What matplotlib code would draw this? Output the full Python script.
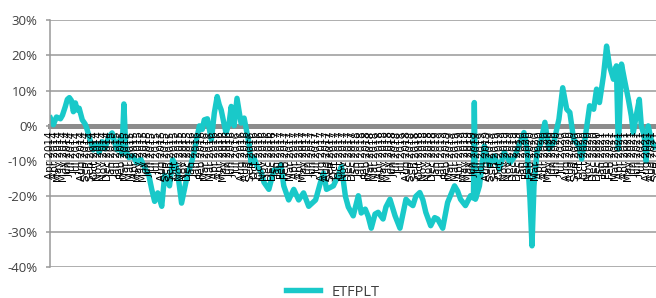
import matplotlib
matplotlib.use("Agg")
import matplotlib.pyplot as plt
import pandas as pd

# premium / discount of ETFPLT
dates = [
    "2014-04-01", "2014-04-14", "2014-04-28", "2014-05-16", "2014-05-25", "2014-06-07",
    "2014-06-16", "2014-06-25", "2014-07-04", "2014-07-13", "2014-07-22", "2014-07-30",
    "2014-08-08", "2014-08-22", "2014-09-04", "2014-09-13", "2014-09-26", "2014-10-10",
    "2014-10-23", "2014-11-06", "2014-11-19", "2014-12-02", "2014-12-16", "2015-01-03",
    "2015-01-16", "2015-01-25", "2015-02-07", "2015-02-16", "2015-02-25", "2015-03-06",
    "2015-03-19", "2015-04-06", "2015-04-24", "2015-05-12", "2015-05-30", "2015-06-17",
    "2015-06-30", "2015-07-13", "2015-07-27", "2015-08-14", "2015-08-27", "2015-09-09",
    "2015-09-18", "2015-10-02", "2015-10-15", "2015-10-24", "2015-11-11", "2015-11-24",
    "2015-12-07", "2015-12-25", "2016-01-08", "2016-01-17", "2016-01-30", "2016-02-12",
    "2016-02-21", "2016-03-06", "2016-03-24", "2016-04-06", "2016-04-19", "2016-04-28",
    "2016-05-07", "2016-05-20", "2016-05-29", "2016-06-12", "2016-06-21", "2016-07-04",
    "2016-07-17", "2016-08-04", "2016-08-18", "2016-08-31", "2016-09-09", "2016-09-18",
    "2016-10-01", "2016-10-15", "2016-11-02", "2016-11-15", "2016-12-07", "2016-12-30",
    "2017-01-21", "2017-01-30", "2017-02-12", "2017-03-06", "2017-03-29", "2017-04-20",
    "2017-05-12", "2017-06-04", "2017-07-05", "2017-07-27", "2017-08-10", "2017-08-23",
    "2017-09-23", "2017-10-15", "2017-10-29", "2017-11-16", "2017-11-29", "2017-12-21",
    "2018-01-13", "2018-01-26", "2018-02-13", "2018-02-26", "2018-03-12", "2018-03-29",
    "2018-04-12", "2018-05-04", "2018-05-17", "2018-06-04", "2018-06-27", "2018-07-19",
    "2018-08-01", "2018-08-15", "2018-09-02", "2018-09-15", "2018-09-28", "2018-10-16",
    "2018-10-30", "2018-11-12", "2018-12-04", "2018-12-22", "2019-01-04", "2019-01-27",
    "2019-02-18", "2019-03-08", "2019-03-21", "2019-04-04", "2019-04-17", "2019-05-09",
    "2019-06-01", "2019-06-14", "2019-06-18", "2019-06-23", "2019-07-11", "2019-08-02",
    "2019-08-24", "2019-09-16", "2019-10-08", "2019-10-30", "2019-11-26", "2019-12-18",
    "2020-01-10", "2020-01-27", "2020-02-10", "2020-02-23", "2020-03-03", "2020-03-12",
    "2020-03-25", "2020-04-08", "2020-04-30", "2020-05-18", "2020-06-09", "2020-07-02",
    "2020-07-19", "2020-08-06", "2020-08-20", "2020-09-06", "2020-09-29", "2020-10-12",
    "2020-10-25", "2020-11-17", "2020-12-05", "2020-12-18", "2020-12-31", "2021-01-18",
    "2021-02-01", "2021-02-14", "2021-03-04", "2021-03-17", "2021-03-26", "2021-04-09",
    "2021-04-22", "2021-05-10", "2021-05-23", "2021-06-01", "2021-06-14", "2021-06-28",
    "2021-07-07", "2021-07-20", "2021-07-29", "2021-08-07", "2021-08-20", "2021-09-05",
]
etfplt = [
    2.2, 0.3, 2.5, 2.0, 3.0, 5.5,
    7.5, 8.0, 7.2, 4.0, 6.5, 4.5,
    5.0, 1.7, 0.5, -1.1, -4.0, -6.8,
    -5.0, -7.5, -4.5, -6.5, -3.5, -2.0,
    -5.0, -6.8, -4.0, -8.0, 6.2, -7.0,
    -9.0, -8.5, -10.5, -9.5, -12.0, -14.0,
    -18.0, -21.4, -19.0, -22.8, -14.0, -15.5,
    -17.0, -9.6, -11.0, -13.0, -21.9, -18.0,
    -14.0, -10.6, -7.0, -4.0, 0.0, -1.0,
    1.7, 2.0, -4.0, 3.6, 8.3, 6.0,
    4.5, 0.5, -2.0, 1.0, 5.5, 0.0,
    7.8, 0.8, 2.2, -2.0, -5.0, -10.6,
    -9.0, -11.5, -13.0, -16.0, -18.0, -12.5,
    -12.5, -11.0, -17.0, -21.0, -18.0, -21.0,
    -19.0, -22.8, -21.0, -16.0, -13.4, -18.0,
    -17.0, -14.0, -11.5, -20.0, -23.0, -25.5,
    -19.8, -24.7, -23.6, -25.6, -29.0, -25.0,
    -24.5, -26.4, -23.0, -20.8, -25.5, -29.0,
    -25.0, -20.8, -22.0, -22.6, -20.0, -18.9,
    -21.0, -24.5, -28.3, -26.0, -26.4, -29.0,
    -21.7, -19.0, -17.0, -18.5, -20.8, -22.6,
    -19.8, -20.5, 6.6, -20.8, -17.0, -5.7,
    -11.3, -8.5, -12.3, -7.5, -10.4, -8.5,
    -4.7, -1.9, -6.6, -20.8, -34.0, -17.0,
    -7.5, -5.7, 1.0, -6.6, -4.7, 1.9,
    10.8, 4.7, 3.8, -3.8, -5.7, -9.4,
    -4.7, 5.7, 4.7, 10.4, 6.6, 14.2,
    22.6, 17.0, 13.2, 17.0, -6.6, 17.5,
    13.2, 7.5, 2.8, -1.9, 2.8, 7.5,
    0.0, -2.8, -10.0, 0.0, -3.8, -6.0,
]
y_ticks = [-40, -30, -20, -10, 0, 10, 20, 30]

x = pd.to_datetime(dates)
tick_dates = pd.date_range("2014-04-01", "2021-09-30", freq="20D")
tick_labels = [d.strftime("%b %Y") for d in tick_dates]

fig = plt.figure(figsize=(6.56, 2.98), dpi=100)
ax = fig.add_axes([0.0762, 0.104, 0.9238, 0.829])

for v in y_ticks:
    if v != 0:
        ax.axhline(v, color="#999999", lw=1.1, zorder=0.5)

ax.plot(x, etfplt, color="#19c9c9", lw=3.9, solid_joinstyle="round",
        label="ETFPLT", zorder=2)

ax.set_ylim(-40, 30)
ax.set_xlim(pd.Timestamp("2014-03-30"), pd.Timestamp("2021-08-24"))
ax.set_yticks(y_ticks)
ax.set_yticklabels([f"{v}%" for v in y_ticks])
ax.set_xticks(tick_dates)
ax.set_xticklabels(tick_labels)

ax.set_axisbelow(False)
ax.spines["top"].set_visible(False)
ax.spines["right"].set_visible(False)
ax.spines["bottom"].set_position(("data", 0))
ax.spines["bottom"].set_color("#8c8c8c")
ax.spines["bottom"].set_linewidth(3.6)
ax.spines["bottom"].set_zorder(1)
ax.spines["left"].set_color("#999999")
ax.spines["left"].set_linewidth(1.1)

ax.tick_params(axis="x", length=0, pad=4, labelrotation=90, labelsize=7.5,
               labelcolor="black")
ax.tick_params(axis="y", length=3, width=1.1, color="#999999", pad=6,
               labelsize=9.5, labelcolor="#404040")
for t in ax.get_yticklabels():
    t.set_family("Open Sans")

leg = fig.legend(loc="center", bbox_to_anchor=(0.507, 0.02), frameon=False,
                 handlelength=2.3, prop={"family": "Open Sans", "size": 10.5})
for t in leg.get_texts():
    t.set_color("#404040")

fig.savefig("out.png", dpi=100)
